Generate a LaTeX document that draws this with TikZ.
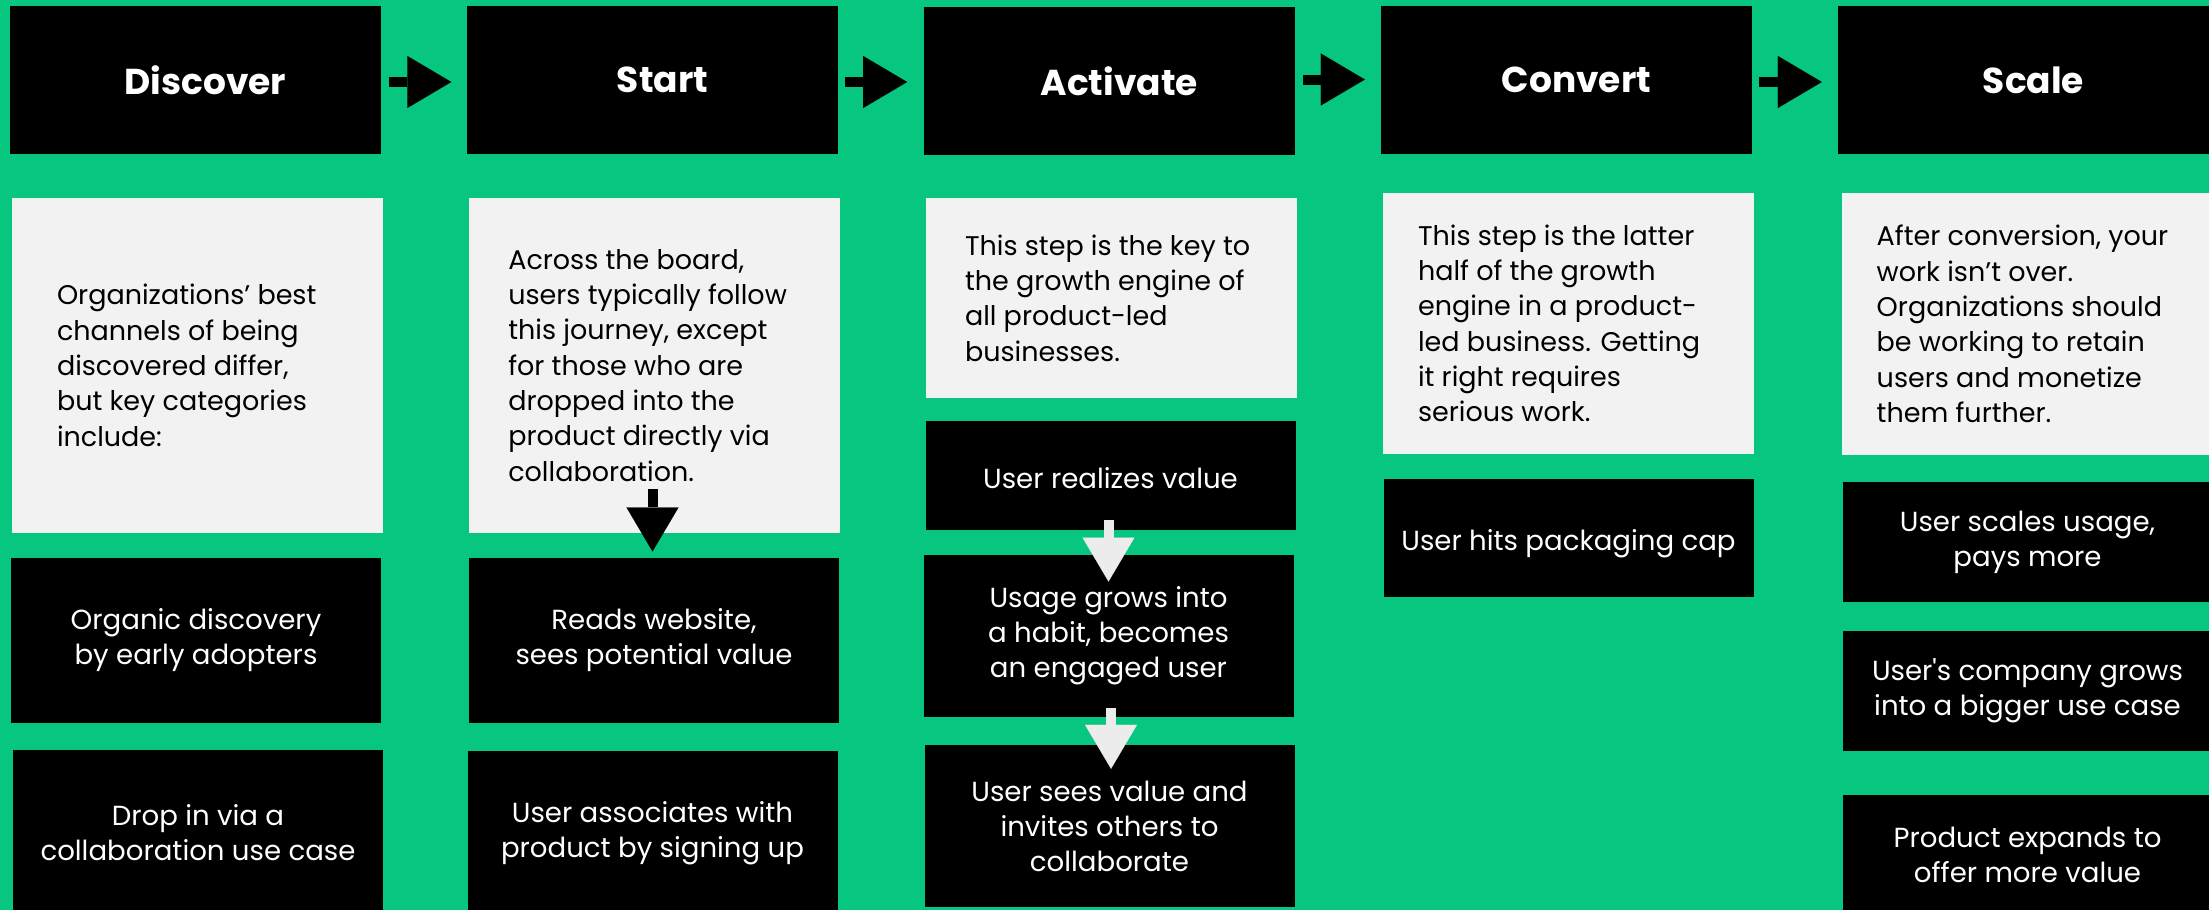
\documentclass[tikz,border=0pt]{standalone}
\usepackage{fontspec}
\setmainfont{Poppins}
\usetikzlibrary{arrows.meta}
\definecolor{bggreen}{RGB}{6,198,128}
\definecolor{panelgray}{RGB}{242,242,242}
\definecolor{arrowlight}{RGB}{236,236,236}
\begin{document}
\begin{tikzpicture}[x=1pt,y=-1pt,
  header/.style={fill=black, text=white, minimum width=371pt, minimum height=148pt,
    inner sep=0pt, font=\fontsize{36}{44}\selectfont\bfseries,
    execute at begin node={\hspace*{20pt}}},
  card/.style={fill=black, text=white, minimum width=370pt, minimum height=#1,
    inner sep=0pt, align=center, font=\fontsize{27.6}{35}\selectfont,
    execute at begin node={\rule{0pt}{26pt}}},
  note/.style={fill=panelgray, minimum width=371pt, minimum height=#1, inner sep=0pt},
  notetext/.style={anchor=west, inner sep=0pt, align=left, text=black,
    font=\fontsize{27}{35.3}\selectfont},
  flow/.style={line width=10pt, -{Triangle[length=44pt,width=52pt,line width=0.1pt]}},
]
% canvas
\fill[bggreen] (0,0) rectangle (2209,910);
\useasboundingbox (0,0) rectangle (2209,910);
\clip (0,0) rectangle (2209,910);

% stage headers
\node[header] (disc)  at (195.5,80)  {Discover};
\node[header] (start) at (652.5,80)  {Start};
\node[header] (act)   at (1109.3,81) {Activate};
\node[header] (conv)  at (1566.5,80) {Convert};
\node[header] (scale) at (2023.5,80) {Scale};

% stage description panels
\node[note=334.5pt] (g1) at (197.5,365.3) {};
\node[note=334.5pt] (g2) at (654.5,365.3) {};
\node[note=199.7pt] (g3) at (1111.5,297.9) {};
\node[note=260.7pt] (g4) at (1568.5,323.4) {};
\node[note=262pt]   (g5) at (2027.5,324) {};

\node[notetext] (g1t) at ([xshift=45pt]g1.west)
  {Organizations’ best\\channels of being\\discovered differ,\\but key categories\\include:};
\node[notetext] (g2t) at ([xshift=39.3pt]g2.west)
  {Across the board,\\users typically follow\\this journey, except\\for those who are\\dropped into the\\product directly via\\collaboration.};
\node[notetext] (g3t) at ([xshift=39pt]g3.west)
  {This step is the key to\\the growth engine of\\all product-led\\businesses.};
\node[notetext] (g4t) at ([xshift=35pt]g4.west)
  {This step is the latter\\half of the growth\\engine in a product-\\led business. Getting\\it right requires\\serious work.};
\node[notetext] (g5t) at ([xshift=34.7pt]g5.west)
  {After conversion, your\\work isn’t over.\\Organizations should\\be working to retain\\users and monetize\\them further.};

% Discover
\node[card=164.7pt] (d1) at (196,640.3) {Organic discovery\\by early adopters};
\node[card=165pt]   (d2) at (198,832.5) {Drop in via a\\collaboration use case};

% Start
\node[card=164.7pt] (s1) at (654,640.3)   {Reads website,\\sees potential value};
\node[card=165pt]   (s2) at (652.5,833.5) {User associates with\\product by signing up};

% Activate
\node[card=108.4pt] (a1) at (1110.5,475.5) {User realizes value};
\node[card=162.3pt] (a2) at (1108.5,635.9) {Usage grows into\\a habit, becomes\\an engaged user};
\node[card=162pt]   (a3) at (1109.5,826)   {User sees value and\\invites others to\\collaborate};

% Convert
\node[card=118pt] (c1) at (1568.5,537.7)
  {\raisebox{-4pt}[\height][\depth]{User hits packaging cap}};

% Scale
\node[card=119.7pt] (sc1) at (2027.5,541.9) {User scales usage,\\pays more};
\node[card=120pt]   (sc2) at (2027.5,691)   {User\textquotesingle s company grows\\into a bigger use case};
\node[card=120pt]   (sc3) at (2027.5,855)   {Product expands to\\offer more value};

% stage-to-stage arrows
\draw[flow] ([xshift=7.5pt,yshift=-2pt]disc.east)  -- ([xshift=-15.5pt,yshift=-2pt]start.west);
\draw[flow] ([xshift=7pt,yshift=-2pt]start.east)   -- ([xshift=-16.5pt,yshift=-1pt]act.west);
\draw[flow] ([xshift=8pt,yshift=1.5pt]act.east)    -- ([xshift=-16pt,yshift=0.5pt]conv.west);
\draw[flow] ([xshift=7pt,yshift=-2pt]conv.east)    -- ([xshift=-16pt,yshift=-2pt]scale.west);

% arrows within columns
\draw[flow] ([xshift=-2pt,yshift=43.7pt]g2.south) -- ([xshift=-1.5pt,yshift=6.3pt]s1.north);
\draw[flow, arrowlight] ([xshift=-2pt,yshift=9.7pt]a1.south) -- ([yshift=-27pt]a2.north);
\draw[flow, arrowlight] ([xshift=2.5pt,yshift=9.7pt]a2.south) -- ([xshift=1.5pt,yshift=-24pt]a3.north);
\end{tikzpicture}
\end{document}
